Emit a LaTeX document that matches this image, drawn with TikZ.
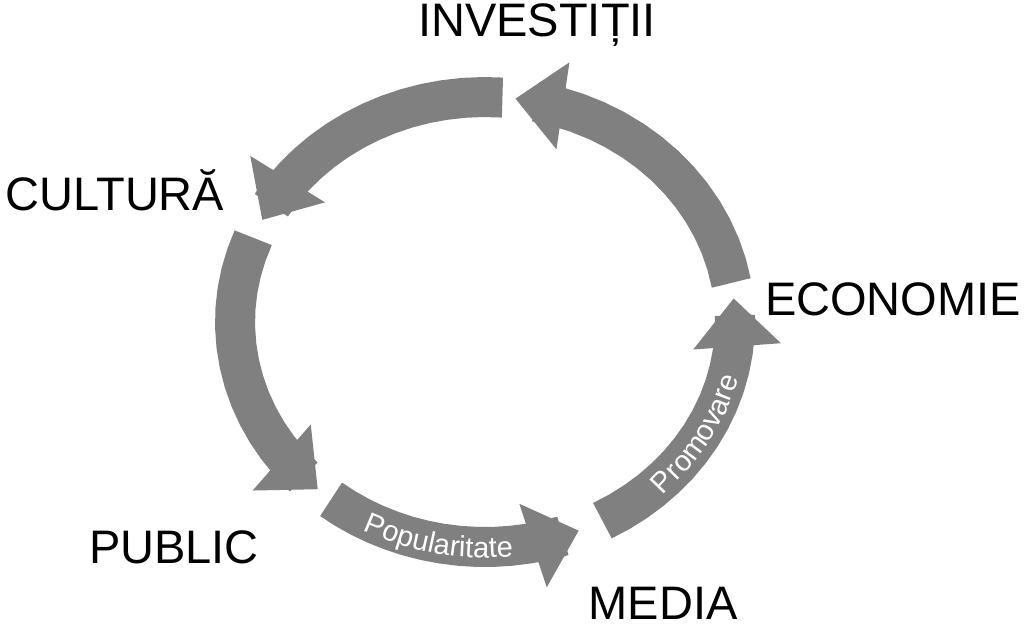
\documentclass[tikz,border=0pt]{standalone}
\usepackage{fontspec}
\setmainfont{Liberation Sans}
\usetikzlibrary{arrows.meta,decorations.text}
\begin{document}
\begin{tikzpicture}[x=1pt,y=-1pt,
  arr/.style={draw={rgb,255:red,128;green,128;blue,128},line width=40pt,line join=bevel,-{Triangle[length=48pt,width=88pt,line width=0pt]}},
  lbl/.style={font=\fontsize{47}{47}\selectfont,inner sep=0pt,anchor=base},
  ptxt/.style={decorate,decoration={text along path,text align=center,
     text={|\fontsize{29}{29}\selectfont\color{white}|#1}}}]
\useasboundingbox (0,0) rectangle (1024,630);
\draw[arr] plot[domain=232:292,samples=16] ({485+250*cos(\x)},{322-225*sin(\x)});
\draw[arr] plot[domain=298:366,samples=16] ({485+250*cos(\x)},{322-225*sin(\x)});
\draw[arr] plot[domain=10:83,samples=16] ({485+250*cos(\x)},{322-225*sin(\x)});
\draw[arr] plot[domain=86:153,samples=16] ({485+250*cos(\x)},{322-225*sin(\x)});
\draw[arr] plot[domain=158:228,samples=16] ({485+250*cos(\x)},{322-225*sin(\x)});
\path[ptxt={Popularitate}] plot[domain=232:286,samples=11] ({485+261*cos(\x)},{322-236*sin(\x)});
\path[ptxt={Promovare}] plot[domain=300:360,samples=9] ({485+261*cos(\x)},{322-236*sin(\x)});
\node[lbl] (inv) at (537,36) {INVESTIȚII};
\node[lbl] (cul) at (115,210) {CULTURĂ};
\node[lbl] (eco) at (893,315) {ECONOMIE};
\node[lbl] (pub) at (174,563) {PUBLIC};
\node[lbl] (med) at (663,619) {MEDIA};
\end{tikzpicture}
\end{document}
